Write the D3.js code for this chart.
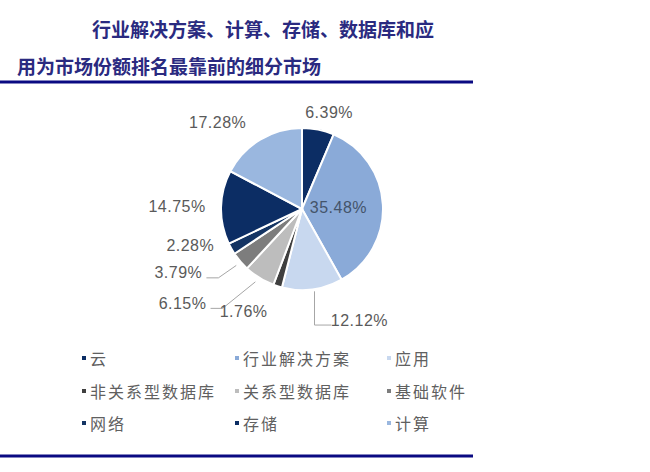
<!DOCTYPE html>
<html>
<head>
<meta charset="utf-8">
<script src="https://cdn.jsdelivr.net/npm/d3@7"></script>
<style>
  body { margin: 0; background: #fff; }
  svg text { font-family: "Liberation Sans", Arial, sans-serif; }
  .cjk { font-family: "Noto Sans CJK SC", sans-serif; }
</style>
</head>
<body>
<div id="chart"></div>
<script>
var width = 650, height = 472;

// data
var categories = ["云", "行业解决方案", "应用", "非关系型数据库", "关系型数据库", "基础软件", "网络", "存储", "计算"];
var shares = [6.39, 35.48, 12.12, 1.76, 6.15, 3.79, 2.28, 14.75, 17.28];
var colors = ["#0c2d64", "#8aaad8", "#c8d8ef", "#3f3f3f", "#bdbdbd", "#7d7d7d", "#143463", "#0c2d64", "#9ab7df"];
var titleLines = ["行业解决方案、计算、存储、数据库和应", "用为市场份额排名最靠前的细分市场"];

// label nudges from the outer label ring (px), and which labels get leader lines
var nudges = [[5, 12], [0, 0], [43, 1], [-25, -3], [-61, 0], [-39, -8], [-15, -18], [-14, 0], [-27, 9]];
var leaders = { 2: "left", 4: "right", 5: "right" };

var svg = d3.select("#chart").append("svg")
    .attr("width", width)
    .attr("height", height);

// title
svg.selectAll(".title")
    .data(titleLines)
    .enter()
    .append("text")
    .attr("class", "cjk")
    .attr("x", function (d, i) { return i === 0 ? 92 : 17; })
    .attr("y", function (d, i) { return 37 + i * 37; })
    .attr("font-size", 19)
    .attr("font-weight", "bold")
    .attr("fill", "#2a2a80")
    .text(function (d) { return d; });

// rules above and below
[82, 456].forEach(function (y) {
    svg.append("line")
        .attr("x1", 0).attr("x2", 473)
        .attr("y1", y).attr("y2", y)
        .attr("stroke", "#0a0a82")
        .attr("stroke-width", 3);
});

// pie
var cx = 302, cy = 209, r = 81;
var g = svg.append("g").attr("transform", "translate(" + cx + "," + cy + ")");

var pie = d3.pie().sort(null).value(function (d) { return d; });
var arcs = pie(shares);
var arc = d3.arc().innerRadius(0).outerRadius(r);
var labelArc = d3.arc().innerRadius(r + 30).outerRadius(r + 30);
var innerArc = d3.arc().innerRadius(r * 0.45).outerRadius(r * 0.45);
var edgeArc = d3.arc().innerRadius(r).outerRadius(r);

g.selectAll("path")
    .data(arcs)
    .enter()
    .append("path")
    .attr("d", arc)
    .attr("fill", function (d, i) { return colors[i]; })
    .attr("stroke", "#fff")
    .attr("stroke-width", 2);

function labelPos(d, i) {
    if (i === 1) return innerArc.centroid(d);
    var c = labelArc.centroid(d);
    return [c[0] + nudges[i][0], c[1] + nudges[i][1]];
}

var fmt = function (v) { return v.toFixed(2) + "%"; };

// leader lines
arcs.forEach(function (d, i) {
    if (!leaders[i]) return;
    var p = labelPos(d, i);
    var s = edgeArc.centroid(d);
    var halfW = 26;
    var pts;
    if (leaders[i] === "left") {
        var lx = p[0] - halfW - 2;
        pts = [[s[0] + 2, s[1] + 2], [s[0] + 2, p[1] + 5], [lx, p[1] + 5]];
    } else {
        var rx = p[0] + halfW + 2;
        pts = [[s[0] - 4, s[1] + 4], [rx + 12, p[1] + 5], [rx, p[1] + 5]];
    }
    g.append("path")
        .attr("d", d3.line()(pts))
        .attr("fill", "none")
        .attr("stroke", "#a6a6a6")
        .attr("stroke-width", 1);
});

g.selectAll(".lbl")
    .data(arcs)
    .enter()
    .append("text")
    .attr("class", "lbl")
    .attr("x", function (d, i) { return labelPos(d, i)[0]; })
    .attr("y", function (d, i) { return labelPos(d, i)[1]; })
    .attr("text-anchor", "middle")
    .attr("dominant-baseline", "central")
    .attr("font-size", 16)
    .attr("letter-spacing", 0.5)
    .attr("fill", function (d, i) { return i === 1 ? "#44546a" : "#5a5a5a"; })
    .text(function (d, i) { return fmt(shares[i]); });

// legend, three columns
var colX = [82, 235, 387], rowY = [358, 391, 423];
var leg = svg.selectAll(".leg")
    .data(categories)
    .enter()
    .append("g")
    .attr("transform", function (d, i) {
        return "translate(" + colX[i % 3] + "," + rowY[Math.floor(i / 3)] + ")";
    });

leg.append("rect")
    .attr("x", 0).attr("y", -2)
    .attr("width", 4).attr("height", 4)
    .attr("fill", function (d, i) { return colors[i]; });

leg.append("text")
    .attr("class", "cjk")
    .attr("x", 8)
    .attr("y", 0)
    .attr("dominant-baseline", "central")
    .attr("font-size", 16)
    .attr("letter-spacing", 2)
    .attr("fill", "#606060")
    .text(function (d) { return d; });
</script>
</body>
</html>
